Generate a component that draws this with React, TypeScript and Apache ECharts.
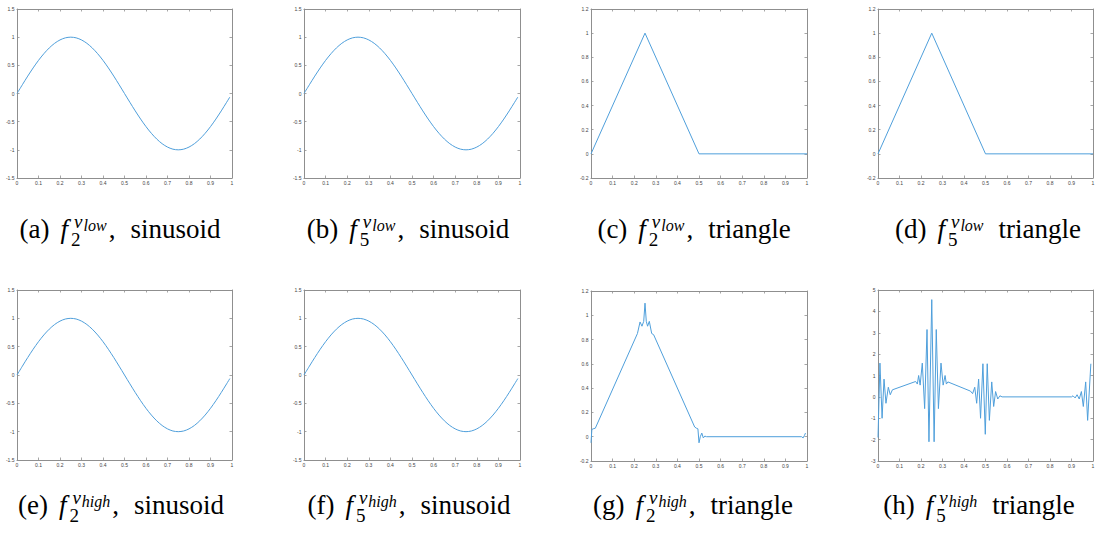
import React, { useEffect, useRef } from "react";
import * as echarts from "echarts";

// Shared x positions and values of one sinusoid period
const sineX = [0, 0.025, 0.05, 0.075, 0.1, 0.125, 0.15, 0.175, 0.2, 0.225, 0.25, 0.275, 0.3, 0.325, 0.35, 0.375, 0.4, 0.425, 0.45, 0.475, 0.5, 0.525, 0.55, 0.575, 0.6, 0.625, 0.65, 0.675, 0.7, 0.725, 0.75, 0.775, 0.8, 0.825, 0.85, 0.875, 0.9, 0.925, 0.95, 0.975, 0.99];
const sineY = [0, 0.156, 0.309, 0.454, 0.588, 0.707, 0.809, 0.891, 0.951, 0.988, 1, 0.988, 0.951, 0.891, 0.809, 0.707, 0.588, 0.454, 0.309, 0.156, 0, -0.156, -0.309, -0.454, -0.588, -0.707, -0.809, -0.891, -0.951, -0.988, -1, -0.988, -0.951, -0.891, -0.809, -0.707, -0.588, -0.454, -0.309, -0.156, -0.063];

// Clean triangle pulse
const triX = [0, 0.25, 0.5, 1];
const triY = [0, 1, 0, 0];

// Triangle reconstructed by f2 with v_high (small ringing at corners)
const triHigh2X = [0, 0.004, 0.01, 0.02, 0.215, 0.227, 0.236, 0.244, 0.25, 0.256, 0.262, 0.27, 0.281, 0.29, 0.48, 0.488, 0.495, 0.5, 0.506, 0.513, 0.52, 0.527, 0.535, 0.975, 0.982, 0.988, 0.993];
const triHigh2Y = [-0.05, 0.06, 0.065, 0.07, 0.85, 0.945, 0.91, 0.95, 1.1, 0.95, 0.91, 0.95, 0.85, 0.84, 0.08, 0.07, 0.065, -0.05, 0.0, 0.03, -0.01, 0.005, 0, 0, -0.01, 0.01, 0.03];

// Triangle reconstructed by f5 with v_high (strong oscillations)
const triHigh5X = [0, 0.009, 0.019, 0.028, 0.037, 0.048, 0.057, 0.067, 0.175, 0.183, 0.189, 0.196, 0.206, 0.217, 0.228, 0.237, 0.25, 0.261, 0.271, 0.281, 0.293, 0.303, 0.312, 0.318, 0.325, 0.43, 0.44, 0.45, 0.459, 0.468, 0.477, 0.488, 0.499, 0.508, 0.518, 0.529, 0.538, 0.547, 0.557, 0.567, 0.577, 0.9, 0.907, 0.917, 0.926, 0.936, 0.946, 0.955, 0.966, 0.975, 0.99];
const triHigh5Y = [-1.9, 1.58, -1.0, 0.83, -0.3, 0.45, 0.1, 0.33, 0.72, 0.6, 1.0, 0.55, 1.58, -0.55, 3.15, -2.1, 4.55, -2.1, 3.15, -0.55, 1.58, 0.55, 1.0, 0.6, 0.7, 0.27, 0.15, 0.45, -0.3, 0.83, -1.0, 1.55, -1.75, 1.55, -1.1, 0.7, -0.45, 0.25, -0.1, 0.05, 0, 0, 0.05, -0.05, 0.1, -0.1, 0.25, -0.45, 0.7, -1.1, 1.55];

// Caption parts
const captionLabels = ["(a)", "(b)", "(c)", "(d)", "(e)", "(f)", "(g)", "(h)"];
const captionIndex = ["2", "5", "2", "5", "2", "5", "2", "5"];
const captionSup = ["low", "low", "low", "low", "high", "high", "high", "high"];
const captionComma = [true, true, true, false, true, true, true, false];
const captionWord = ["sinusoid", "sinusoid", "triangle", "triangle", "sinusoid", "sinusoid", "triangle", "triangle"];

// Axis ranges per panel: [min, max, interval]
const yRanges: [number, number, number][] = [
  [-1.5, 1.5, 0.5], [-1.5, 1.5, 0.5], [-0.2, 1.2, 0.2], [-0.2, 1.2, 0.2],
  [-1.5, 1.5, 0.5], [-1.5, 1.5, 0.5], [-0.2, 1.2, 0.2], [-3, 5, 1],
];

const panelSeries: [number[], number[]][] = [
  [sineX, sineY], [sineX, sineY], [triX, triY], [triX, triY],
  [sineX, sineY], [sineX, sineY], [triHigh2X, triHigh2Y], [triHigh5X, triHigh5Y],
];

// Plot boxes in pixels: [left, top, width, height]
const boxes: [number, number, number, number][] = [
  [17, 9, 215, 169], [304, 9, 216, 169], [591, 9, 216, 169], [878, 9, 215, 169],
  [17, 290, 215, 170], [304, 290, 216, 170], [591, 291, 216, 170], [878, 290, 215, 171],
];

const captionCenters = [120, 408, 694, 988, 121, 409, 693, 979];
const captionBaselines = [240, 240, 240, 240, 516, 516, 516, 516];

const LINE_COLOR = "#4f9fdb";
const AXIS_COLOR = "#8f8f8f";
const SERIF = "Liberation Serif";
const SANS = "Liberation Sans";

function makeMeasure() {
  const ctx = document.createElement("canvas").getContext("2d")!;
  return (text: string, size: number, italic = false) => {
    ctx.font = `${italic ? "italic " : ""}${size}px ${SERIF}`;
    return ctx.measureText(text).width;
  };
}

function buildCaption(i: number, measure: (t: string, s: number, it?: boolean) => number) {
  const F = 27, S = 19, SS = 16;
  const parts: { text: string; x: number; dy: number; size: number; italic: boolean }[] = [];
  let x = 0;
  parts.push({ text: captionLabels[i], x, dy: 0, size: F, italic: false });
  x += measure(captionLabels[i], F) + 11;
  parts.push({ text: "f", x, dy: 0, size: F, italic: true });
  const fEnd = x + measure("f", F, true);
  parts.push({ text: captionIndex[i], x: fEnd + 3, dy: 7, size: S, italic: false });
  const subEnd = fEnd + 3 + measure(captionIndex[i], S);
  const vx = fEnd + 6;
  parts.push({ text: "v", x: vx, dy: -11, size: S, italic: true });
  const sx = vx + measure("v", S, true) + 1;
  parts.push({ text: captionSup[i], x: sx, dy: -8, size: SS, italic: true });
  const supEnd = sx + measure(captionSup[i], SS, true);
  let end = Math.max(subEnd, supEnd);
  if (captionComma[i]) {
    parts.push({ text: ",", x: end + 2, dy: 0, size: F, italic: false });
    end = end + 2 + measure(",", F);
  }
  x = end + 15;
  parts.push({ text: captionWord[i], x, dy: 0, size: F, italic: false });
  const total = x + measure(captionWord[i], F);
  const x0 = captionCenters[i] - total / 2;
  const base = captionBaselines[i];
  return parts.map((p) => {
    const style: any = { text: p.text, fontSize: p.size, fontFamily: SERIF, fill: "#000" };
    if (p.italic) style.fontStyle = "italic";
    // top of the em box sits about 0.891em above the baseline
    return { type: "text", x: x0 + p.x, y: base + p.dy - 0.891 * p.size, style };
  });
}

function axisCommon(showLabels: boolean) {
  return {
    axisLine: { show: true, onZero: false, lineStyle: { color: AXIS_COLOR, width: 1 } },
    axisTick: { show: true, inside: true, length: 2.5, lineStyle: { color: AXIS_COLOR, width: 0.8 } },
    axisLabel: {
      show: showLabels,
      fontSize: 5,
      fontFamily: SANS,
      color: "#444",
      margin: 2.5,
      showMinLabel: true,
      showMaxLabel: true,
    },
    splitLine: { show: false },
  };
}

function buildOption() {
  const measure = makeMeasure();
  const grid: any[] = [];
  const xAxis: any[] = [];
  const yAxis: any[] = [];
  const series: any[] = [];
  const graphic: any[] = [];

  boxes.forEach(([left, top, width, height], i) => {
    grid.push({ left, top, width, height, containLabel: false, show: false });
    const [ymin, ymax, yint] = yRanges[i];
    xAxis.push({ type: "value", gridIndex: i, min: 0, max: 1, interval: 0.1, position: "bottom", ...axisCommon(true) });
    xAxis.push({ type: "value", gridIndex: i, min: 0, max: 1, interval: 0.1, position: "top", ...axisCommon(false) });
    yAxis.push({ type: "value", gridIndex: i, min: ymin, max: ymax, interval: yint, position: "left", ...axisCommon(true) });
    yAxis.push({ type: "value", gridIndex: i, min: ymin, max: ymax, interval: yint, position: "right", ...axisCommon(false) });
    const [xs, ys] = panelSeries[i];
    const isSine = xs === sineX;
    series.push({
      type: "line",
      xAxisIndex: 2 * i,
      yAxisIndex: 2 * i,
      data: xs.map((x, k) => [x, ys[k]]),
      symbol: "none",
      showSymbol: false,
      smooth: isSine ? 0.3 : false,
      lineStyle: { color: LINE_COLOR, width: 1 },
      clip: true,
    });
    graphic.push(...buildCaption(i, measure));
  });

  return {
    animation: false,
    grid,
    xAxis,
    yAxis,
    series,
    graphic,
  };
}

export default function App() {
  const ref = useRef<HTMLDivElement>(null);
  useEffect(() => {
    if (!ref.current) return;
    const chart = echarts.init(ref.current, undefined, { renderer: "svg" });
    chart.setOption(buildOption() as any);
    return () => chart.dispose();
  }, []);
  return (
    <div
      ref={ref}
      style={{ position: "absolute", left: 0, top: 0, width: 1099, height: 533, background: "#fff" }}
    />
  );
}
